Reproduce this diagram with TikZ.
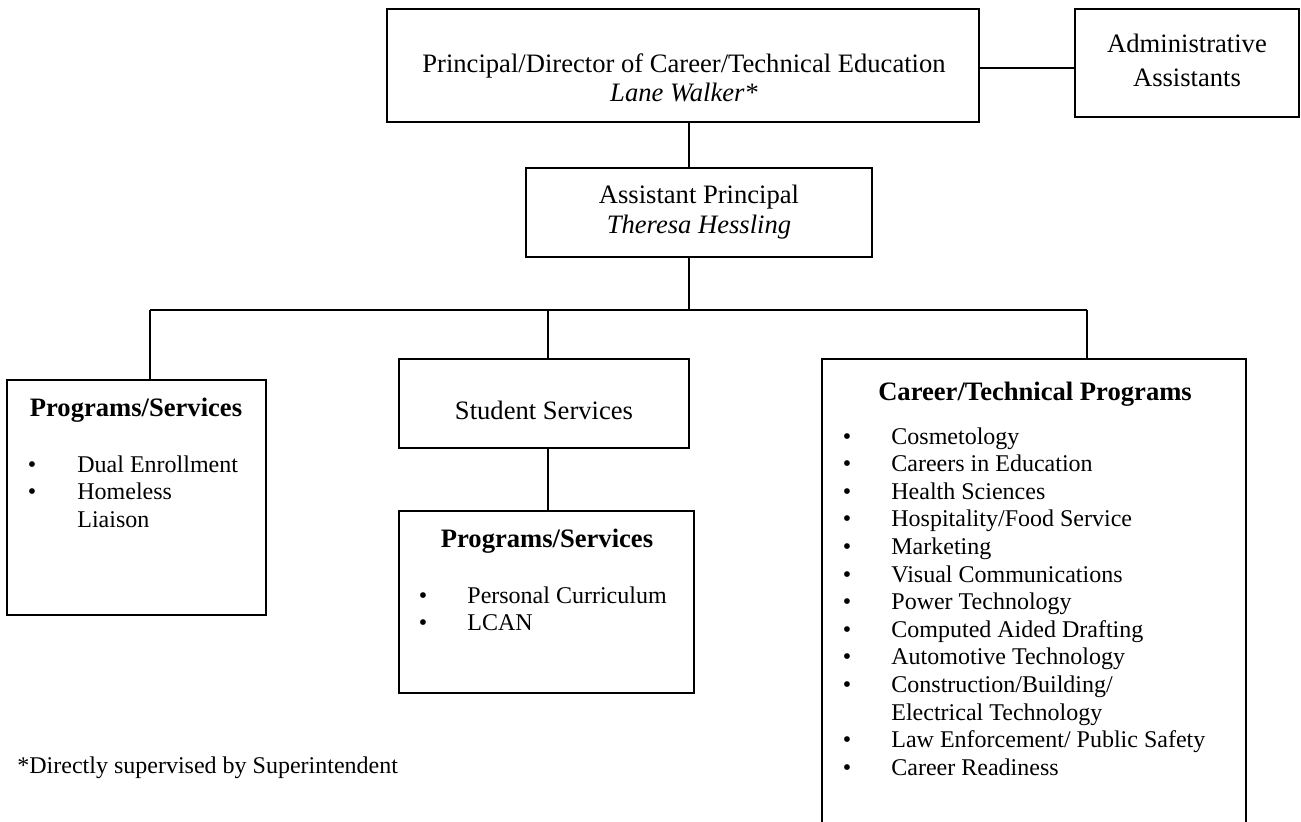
\documentclass[tikz,border=0pt]{standalone}
\usepackage{fontspec}
\setmainfont{Liberation Serif}
\usetikzlibrary{fit}

\tikzset{
  orgbox/.style={draw, line width=1pt, inner sep=0pt},
  link/.style={line width=1pt},
  txt/.style={anchor=base, inner sep=0pt, font=\fontsize{12}{13.8}\selectfont},
  head/.style={txt, font=\fontsize{13.3}{16}\selectfont},
  item/.style={txt, anchor=base west},
}

\begin{document}
\begin{tikzpicture}[x=0.5pt, y=-0.5pt]
  \clip (0,0) rectangle (1301,821);

  % boxes
  \node[orgbox, fit={(387,9) (979,122)}] (prin) {};
  \node[orgbox, fit={(1075,9) (1299,117)}] (admin) {};
  \node[orgbox, fit={(526,168) (872,257)}] (ap) {};
  \node[orgbox, fit={(7,380) (266,615)}] (progA) {};
  \node[orgbox, fit={(399,359) (689,448)}] (stud) {};
  \node[orgbox, fit={(399,511) (694,693)}] (progB) {};
  \node[orgbox, fit={(822,359) (1246,860)}] (ctp) {};

  % texts
  \node[head] (prinA) at (684,72) {Principal/Director of Career/Technical Education};
  \node[head] (prinB) at (684,101) {\itshape Lane Walker*};
  \node[head] (adminA) at (1187,52) {Administrative};
  \node[head] (adminB) at (1187,86) {Assistants};
  \node[head] (apA) at (699,203) {Assistant Principal};
  \node[head] (apB) at (699,233) {\itshape Theresa Hessling};
  \node[head] (studA) at (544,419) {Student Services};

  % programs/services (left)
  \node[head] (progAt) at (136,416) {\bfseries Programs/Services};
  \node[txt] at (32,472) {\textbullet};
  \node[txt] at (32,499) {\textbullet};
  \node[item] (progA1) at (77,472) {Dual Enrollment};
  \node[item] (progA2) at (77,499) {Homeless};
  \node[item] (progA3) at (77,527) {Liaison};

  % programs/services (middle)
  \node[head] (progBt) at (547,547) {\bfseries Programs/Services};
  \node[txt] at (423,603) {\textbullet};
  \node[txt] at (423,630) {\textbullet};
  \node[item] (progB1) at (467,603) {Personal Curriculum};
  \node[item] (progB2) at (467,630) {LCAN};

  % career/technical programs
  \node[head] (ctpt) at (1035,400) {\bfseries Career/Technical Programs};
  \foreach \lbl [count=\i from 0] in {Cosmetology, Careers in Education,
      Health Sciences, Hospitality/Food Service, Marketing,
      Visual Communications, Power Technology, Computed Aided Drafting,
      Automotive Technology, Construction/Building/, Electrical Technology,
      Law Enforcement/ Public Safety, Career Readiness}
    \node[item] (ctp\i) at (891,444+27.6*\i) {\lbl};
  \foreach \i in {0,...,9,11,12}
    \node[txt] at (847,444+27.6*\i) {\textbullet};

  \node[item] (note) at (17,773) {*Directly supervised by Superintendent};

  % connectors
  \coordinate (spine) at (689,310);
  \coordinate (dropA) at (150,310);
  \coordinate (dropB) at (548,310);
  \coordinate (dropC) at (1087,310);
  \draw[link] (prin.east |- 0,68) -- (admin.west |- 0,68);
  \draw[link] (prin.south -| spine) -- (ap.north -| spine);
  \draw[link] (ap.south -| spine) -- (spine);
  \draw[link] (dropA) -- (dropC);
  \draw[link] (dropA) -- (dropA |- progA.north);
  \draw[link] (dropB) -- (dropB |- stud.north);
  \draw[link] (dropC) -- (dropC |- ctp.north);
  \draw[link] (stud.south -| dropB) -- (progB.north -| dropB);
\end{tikzpicture}
\end{document}
